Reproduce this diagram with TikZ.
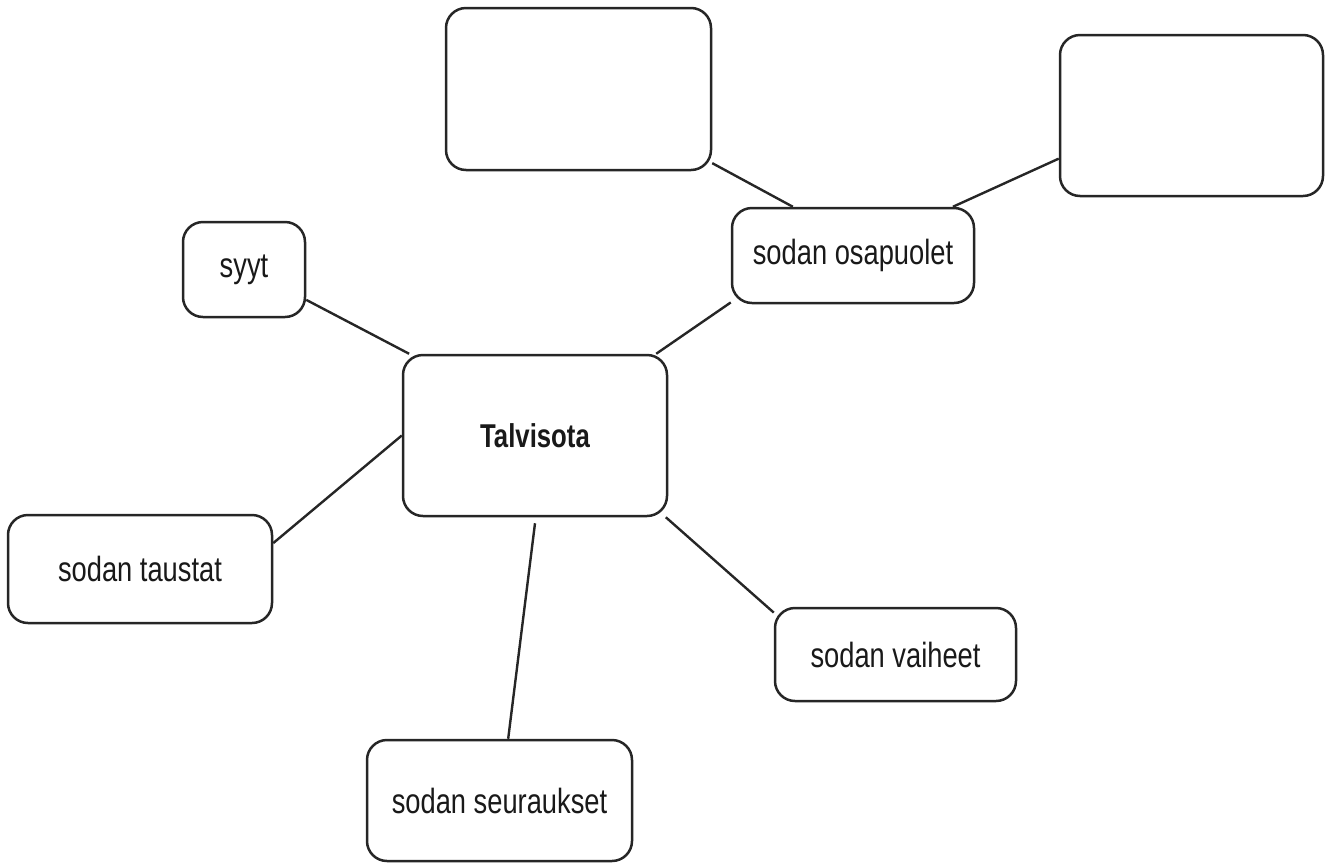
\documentclass[tikz,border=0pt]{standalone}
\usepackage{fontspec}
\newfontfamily\mapfont{Liberation Sans}[FakeStretch=0.78]
\usetikzlibrary{positioning}

\begin{document}
\begin{tikzpicture}[x=1pt,y=-1pt,
    mapbox/.style={draw=black!85, line width=2.5pt, rounded corners=20pt,
        inner sep=0pt, text=black!90, font=\mapfont\fontsize{35}{42}\selectfont},
    link/.style={draw=black!85, line width=2.4pt}]
    \useasboundingbox (0,0) rectangle (1328,863);

    % Centre and the topics round it
    \node[mapbox, minimum width=264pt, minimum height=161pt, font=\mapfont\bfseries\fontsize{33}{40}\selectfont] (tal) at (535,435.5) {Talvisota};
    \node[mapbox, minimum width=122pt, minimum height=95pt] (syyt) at (244,269.5) {syyt};
    \node[mapbox, minimum width=242pt, minimum height=95pt] (osap) at (853,255.5) {sodan osapuolet};
    \node[mapbox, minimum width=264pt, minimum height=108pt] (taus) at (140,569) {sodan taustat};
    \node[mapbox, minimum width=241pt, minimum height=93pt] (vaih) at (895.5,654.5) {sodan vaiheet};
    \node[mapbox, minimum width=265pt, minimum height=121pt] (seur) at (499.5,800.5) {sodan seuraukset};

    % Empty boxes to fill in
    \node[mapbox, minimum width=265pt, minimum height=162pt] (empA) at (578.5,89) {};
    \node[mapbox, minimum width=263pt, minimum height=161pt] (empB) at (1191.5,115.5) {};

    % Connectors
    \draw[link] (syyt.-26) -- (tal.147);
    \draw[link] (osap.-159) -- (tal.34.5);
    \draw[link] (tal.west) -- (taus.11.6);
    \draw[link] ([yshift=-6pt]tal.south) -- (seur.82);
    \draw[link] (tal.-32.9) -- (vaih.161.7);
    \draw[link] (empA.-29) -- (osap.141.6);
    \draw[link] (osap.26.1) -- (empB.-162.9);
\end{tikzpicture}
\end{document}
